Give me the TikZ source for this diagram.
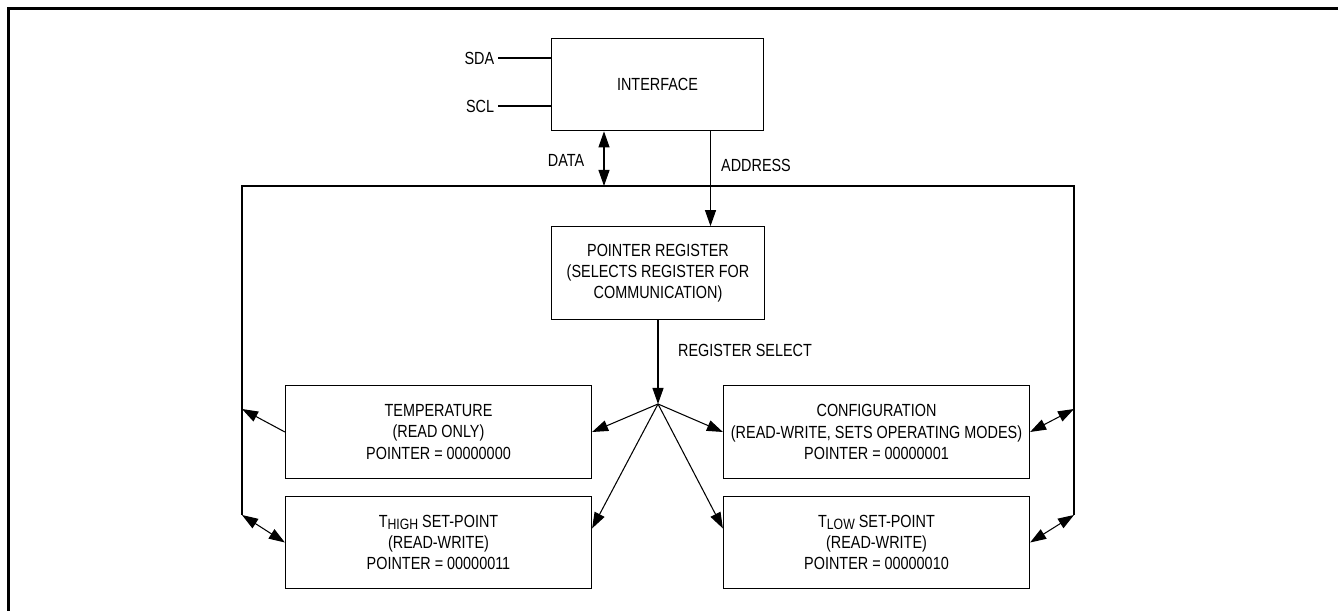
\documentclass[tikz,border=0pt]{standalone}
\usepackage{fontspec}
\setmainfont{Liberation Sans}[FakeStretch=0.82]
\usepackage{tikz}
\usetikzlibrary{calc}
\usetikzlibrary{arrows.meta}
\usetikzlibrary{positioning}
\tikzstyle{blocknode}=[black, draw=black, line width=0.7pt, shape=rectangle, fill=white, minimum width=4.25cm, minimum height=1.85cm, inner sep=2pt, align=center, font=\fontsize{10}{12}\selectfont]
\tikzstyle{regnode}=[blocknode, minimum width=6.12cm]
\tikzstyle{sigtext}=[black, inner sep=2pt, font=\fontsize{10}{12}\selectfont]
\tikzstyle{wire}=[line width=0.6pt, color=black]
\tikzstyle{onehead}=[wire, -{Triangle[length=0.32cm, width=0.22cm]}]
\tikzstyle{twohead}=[wire, {Triangle[length=0.32cm, width=0.22cm]}-{Triangle[length=0.32cm, width=0.22cm]}]
\newcommand{\lowsub}[1]{\raisebox{-1.3pt}{\fontsize{8.5}{10}\selectfont #1}}

\begin{document}
\begin{tikzpicture}
\useasboundingbox (0,0) rectangle (26.76,12.22);
% outer frame
\draw[line width=0.06cm] (0.18,0) -- (0.18,12.04) -- (26.9,12.04);

\node [blocknode] (iface) at (13.15,10.53) {INTERFACE};
\node [blocknode] (ptr) at (13.16,6.76) {POINTER REGISTER\\(SELECTS REGISTER FOR\\COMMUNICATION)};
\node [regnode] (temp) at (8.77,3.58) {TEMPERATURE\\(READ ONLY)\\POINTER = 00000000};
\node [regnode] (thigh) at (8.77,1.37) {T\lowsub{HIGH} SET-POINT\\(READ-WRITE)\\POINTER = 00000011};
\node [regnode] (config) at (17.53,3.58) {CONFIGURATION\\(READ-WRITE, SETS OPERATING MODES)\\POINTER = 00000001};
\node [regnode] (tlow) at (17.53,1.37) {T\lowsub{LOW} SET-POINT\\(READ-WRITE)\\POINTER = 00000010};

\node [sigtext, anchor=east] (sda) at (9.96,11.06) {SDA};
\node [sigtext, anchor=east] (scl) at (9.96,10.10) {SCL};
\node [sigtext] (data) at (11.32,9.02) {DATA};
\node [sigtext] (addr) at (15.12,8.92) {ADDRESS};
\node [sigtext] (rsel) at (14.9,5.22) {REGISTER SELECT};

\coordinate (fan) at (13.16,4.14);
\coordinate (busL1) at (4.84,4.04);
\coordinate (busL2) at (4.84,1.92);
\coordinate (busR1) at (21.48,4.04);
\coordinate (busR2) at (21.48,1.92);
\coordinate (busLtop) at (4.84,8.5);
\coordinate (busRtop) at (21.48,8.5);

\draw[wire] (sda.east) -- (sda.east -| iface.west);
\draw[wire] (scl.east) -- (scl.east -| iface.west);
\draw[wire] (busL2) -- (busLtop) -- (busRtop) -- (busR2);
\draw[twohead] (iface.south -| 12.08,0) -- (busLtop -| 12.08,0);
\draw[onehead] (iface.south -| 14.21,0) -- (ptr.north -| 14.21,0);
\draw[onehead] (ptr.south) -- (fan);

\draw[onehead] (fan) -- (temp.east);
\draw[onehead] (fan) -- ($(thigh.north east)!0.35!(thigh.south east)$);
\draw[onehead] (fan) -- (config.west);
\draw[onehead] (fan) -- ($(tlow.north west)!0.35!(tlow.south west)$);

\draw[onehead] (temp.west) -- (busL1);
\draw[twohead] (thigh.west) -- (busL2);
\draw[twohead] (config.east) -- (busR1);
\draw[twohead] (tlow.east) -- (busR2);
\end{tikzpicture}
\end{document}
